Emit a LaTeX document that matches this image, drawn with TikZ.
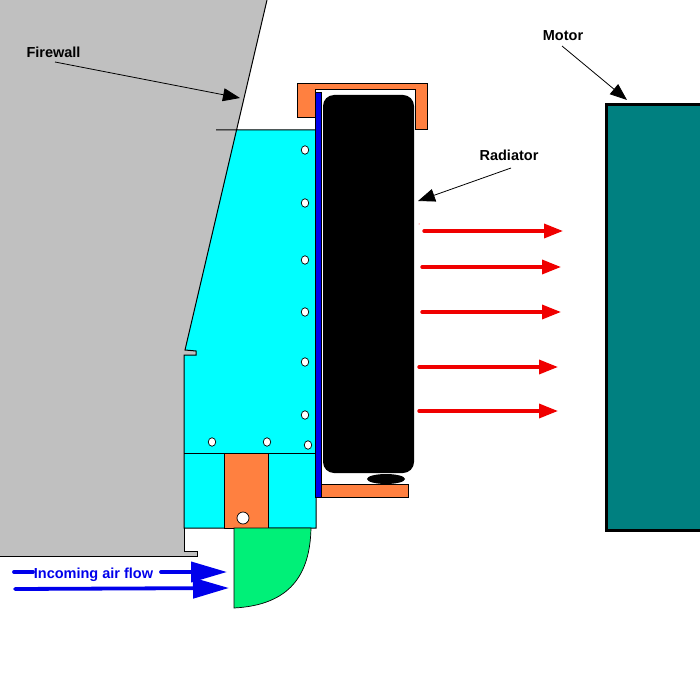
\documentclass[tikz,border=0pt]{standalone}
\usepackage{fontspec}
\setmainfont{Liberation Sans}
\usetikzlibrary{arrows.meta,shapes.geometric}
\definecolor{wallgray}{RGB}{192,192,192}
\definecolor{ductcyan}{RGB}{0,255,255}
\definecolor{bracket}{RGB}{255,128,64}
\definecolor{scoop}{RGB}{0,240,120}
\definecolor{motorteal}{RGB}{0,128,128}
\definecolor{airblue}{RGB}{0,0,235}
\definecolor{airred}{RGB}{240,0,0}
\tikzset{
  x=1pt,y=-1pt,
  ln/.style={draw=black,line width=1pt},
  hole/.style={ellipse,draw=black,fill=white,line width=.7pt,minimum width=7.5pt,minimum height=8.5pt,inner sep=0pt},
  lab/.style={font=\bfseries\fontsize{14.5}{16}\selectfont,inner sep=0pt},
  callout/.style={draw=black,line width=.8pt,-{Triangle[length=17pt,width=13pt]}},
  redflow/.style={draw=airred,line width=3.4pt,line cap=round,-{Triangle[length=19pt,width=14pt]}},
  blueflow/.style={draw=airblue,line width=3.8pt,line cap=round,-{Triangle[length=36pt,width=20pt]}},
  bluestub/.style={draw=airblue,line width=3.8pt,line cap=round},
}
\begin{document}
\begin{tikzpicture}
\useasboundingbox (0,0) rectangle (700,700);
% firewall
\fill[wallgray] (0,0)--(267,0)--(185,350)--(196,351)--(196,355)--(184,355)--(184,551)--(197,551)--(197,556)--(0,556)--cycle;
% duct
\fill[ductcyan] (236,130)--(316,130)--(316,528)--(184,528)--(184,355)--(196,355)--(196,351)--(185,350)--cycle;
\draw[ln] (267,0)--(185,350)--(196,351)--(196,355)--(184,355)--(184,528)--(316,528)--(316,130)--(216,130);
\draw[ln] (184,453)--(316,453);
\draw[ln] (184,528)--(184,551)--(197,551)--(197,556)--(0,556);
% lower orange block
\filldraw[ln,fill=bracket] (224,453) rectangle (268,528);
\node[hole,minimum width=12pt,minimum height=12pt] (pivot) at (243,518) {};
% scoop
\filldraw[draw=black,line width=.7pt,fill=scoop] (234,528)--(311,528) .. controls (310,575) and (290,605) .. (234,608)--cycle;
% top bracket
\filldraw[ln,fill=bracket] (297,84)--(427,84)--(427,130)--(415,130)--(415,90)--(315,90)--(315,118)--(297,118)--cycle;
% lower plate
\filldraw[ln,fill=bracket] (320,484) rectangle (408,497);
% blue plate
\filldraw[draw=black,line width=.5pt,fill=airblue] (315,92) rectangle (321,497);
% radiator
\fill[black,rounded corners=11pt] (323,95) rectangle (414,473);
\fill[black] (386,479) ellipse [x radius=19,y radius=5];
\fill[airred] (419,224) circle (.5);
% holes
\foreach \n/\hx/\hy in {a/305/150,b/305/203,c/305/260,d/305/312,e/305/362,f/305/415,g/212/442,h/267/442,i/308/445}
  \node[hole] (h\n) at (\hx,\hy) {};
% motor
\filldraw[draw=black,line width=3pt,fill=motorteal] (606,105) rectangle (706,530);
% labels
\node[lab] (firewall) at (53.5,52) {Firewall};
\node[lab] (motor) at (563,36) {Motor};
\node[lab] (radiator) at (509,155) {Radiator};
\node[lab,text=airblue] (air) at (93.5,575) {Incoming air flow};
% callouts
\coordinate (fwS) at (55,62); \coordinate (fwE) at (240,98);
\coordinate (mS) at (562,46); \coordinate (mE) at (627,100);
\coordinate (rS) at (511,168); \coordinate (rE) at (418,201);
\draw[callout] (fwS)--(fwE);
\draw[callout] (mS)--(mE);
\draw[callout] (rS)--(rE);
% red flow
\foreach \n/\xa/\xb/\yy in {1/424/563/231,2/422/561/267,3/422/561/312,4/419/558/367,5/419/558/411}{
  \coordinate (rf\n a) at (\xa,\yy);
  \coordinate (rf\n b) at (\xb,\yy);
  \draw[redflow] (rf\n a)--(rf\n b);
}
% blue flow
\coordinate (b1a) at (14,572); \coordinate (b1b) at (33,572);
\coordinate (b1c) at (161,572); \coordinate (b1d) at (227,572);
\coordinate (b2a) at (15,589); \coordinate (b2b) at (229,588);
\draw[bluestub] (b1a)--(b1b);
\draw[blueflow] (b1c)--(b1d);
\draw[blueflow] (b2a)--(b2b);
\end{tikzpicture}
\end{document}
